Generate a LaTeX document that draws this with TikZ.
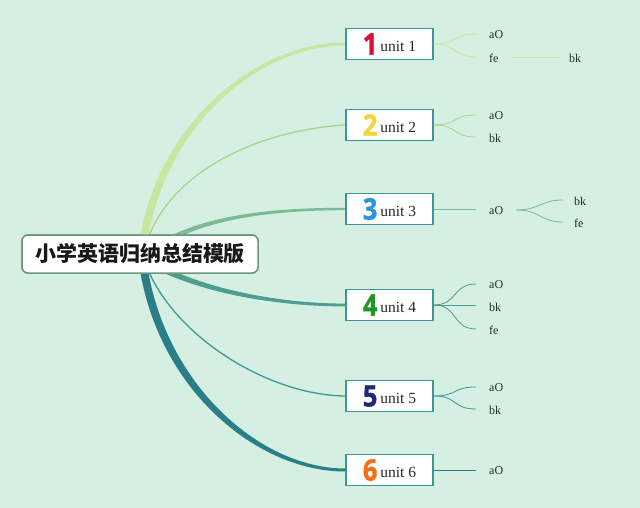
\documentclass[tikz,border=0pt]{standalone}
\usepackage{fontspec}
\setmainfont{Liberation Serif}
\newfontfamily\cjk{Noto Sans CJK SC}
\newfontfamily\digitfont{Open Sans}[BoldFeatures={FakeBold=1.3}]
\definecolor{bgc}{RGB}{213,239,226}
\definecolor{boxc}{RGB}{62,150,148}
\definecolor{rootc}{RGB}{110,150,128}
\definecolor{textc}{RGB}{40,40,40}
\definecolor{k1}{RGB}{200,230,160}
\definecolor{k2}{RGB}{170,211,140}
\definecolor{k3}{RGB}{125,186,150}
\definecolor{k4}{RGB}{78,157,142}
\definecolor{k5}{RGB}{62,152,148}
\definecolor{k6}{RGB}{42,126,136}
\definecolor{d1}{RGB}{214,20,50}
\definecolor{d2}{RGB}{246,210,60}
\definecolor{d3}{RGB}{40,150,220}
\definecolor{d4}{RGB}{30,150,40}
\definecolor{d5}{RGB}{30,40,120}
\definecolor{d6}{RGB}{245,110,20}
\newcommand\dig[2]{\raisebox{-3pt}{\scalebox{0.98}[1.14]{\color{#1}\digitfont\bfseries\fontsize{26}{26}\selectfont #2}}}
\begin{document}
\begin{tikzpicture}[x=1pt,y=-1pt,
  unitbox/.style={draw=boxc, line width=1.8pt, fill=white, minimum width=87pt, minimum height=31pt, inner sep=0pt, font=\fontsize{15.5}{15.5}\selectfont, text=textc},
  rootbox/.style={draw=rootc, line width=1.5pt, rounded corners=6pt, fill=white, minimum width=236pt, minimum height=38pt, inner sep=0pt, font=\cjk\bfseries\fontsize{21}{21}\selectfont, text=black!90},
  leaf/.style={anchor=west, inner sep=1pt, font=\fontsize{12}{12}\selectfont, text=textc},
  br/.style={line cap=round},
  tw/.style={line width=0.8pt}
]
\useasboundingbox (0,0) rectangle (640,508);
\fill[bgc] (0,0) rectangle (640,508);

% unit box positions (drawn first as anchors for branches)
\node[unitbox] (u1) at (389.5,44) {\dig{d1}{1}\hspace{3pt}unit 1};
\node[unitbox] (u2) at (389.5,125) {\dig{d2}{2}\hspace{3pt}unit 2};
\node[unitbox] (u3) at (389.5,209) {\dig{d3}{3}\hspace{3pt}unit 3};
\node[unitbox] (u4) at (389.5,305) {\dig{d4}{4}\hspace{3pt}unit 4};
\node[unitbox] (u5) at (389.5,396) {\dig{d5}{5}\hspace{3pt}unit 5};
\node[unitbox] (u6) at (389.5,470) {\dig{d6}{6}\hspace{3pt}unit 6};
% root (placed for anchors; redrawn on top later)
\node[rootbox] (root) at (140,254) {小学英语归纳总结模版};

% main branches (tapered)
\fill[k1] ([xshift=119pt,yshift=-2pt]root.north west) .. controls (161,120) and (258,42.5) .. ([yshift=1.5pt]u1.west)
  -- ([yshift=-1.5pt]u1.west) .. controls (262,45.5) and (169,120) .. ([xshift=127pt,yshift=-2pt]root.north west) -- cycle;
\draw[br, k2, line width=1.3pt] ([xshift=128pt,yshift=-1pt]root.north west) .. controls (175,170) and (260,130) .. (u2.west);
\fill[k3] ([xshift=148pt,yshift=-2pt]root.north west) .. controls (218,213) and (280,207.8) .. ([yshift=1.2pt]u3.west)
  -- ([yshift=-1.2pt]u3.west) .. controls (282,210.2) and (222,217) .. ([xshift=160pt,yshift=-2pt]root.north west) -- cycle;
\fill[k4] ([xshift=154pt,yshift=2pt]root.south west) .. controls (224,293) and (290,303.6) .. ([yshift=1.4pt]u4.west)
  -- ([yshift=-1.4pt]u4.west) .. controls (288,306.4) and (216,297) .. ([xshift=140pt,yshift=2pt]root.south west) -- cycle;
\draw[br, k5, line width=1.3pt] ([xshift=128pt,yshift=1pt]root.south west) .. controls (180,340) and (270,395) .. (u5.west);
\fill[k6] ([xshift=127pt,yshift=2pt]root.south west) .. controls (169,388) and (262,468.5) .. ([yshift=1.5pt]u6.west)
  -- ([yshift=-1.5pt]u6.west) .. controls (258,471.5) and (161,392) .. ([xshift=119pt,yshift=2pt]root.south west) -- cycle;

% root on top
\node[rootbox] at (140,254) {小学英语归纳总结模版};

% redraw unit boxes on top of branch ends
\foreach \i/\d/\y in {1/d1/44,2/d2/125,3/d3/209,4/d4/305,5/d5/396,6/d6/470}{
  \node[unitbox] at (389.5,\y) {\dig{\d}{\i}\hspace{3pt}unit \i};
}

% leaves
\node[leaf] (a1) at (488,35) {aO};
\node[leaf] (f1) at (488,58) {fe};
\node[leaf] (b1) at (568,58) {bk};
\node[leaf] (a2) at (488,116) {aO};
\node[leaf] (b2) at (488,138) {bk};
\node[leaf] (a3) at (488,211) {aO};
\node[leaf] (b3) at (573,201) {bk};
\node[leaf] (f3) at (573,223) {fe};
\node[leaf] (a4) at (488,285) {aO};
\node[leaf] (b4) at (488,307) {bk};
\node[leaf] (f4) at (488,330) {fe};
\node[leaf] (a5) at (488,388) {aO};
\node[leaf] (b5) at (488,410) {bk};
\node[leaf] (a6) at (488,471) {aO};

% leaf connectors
\draw[k1, tw] (u1.east) .. controls (458,44) and (452,34) .. ([xshift=-12pt,yshift=1pt]a1.west);
\draw[k1, tw] (u1.east) .. controls (458,44) and (452,57) .. ([xshift=-12pt,yshift=1pt]f1.west);
\draw[k1, tw] ([xshift=12pt,yshift=1pt]f1.east) -- ([xshift=-8pt,yshift=1pt]b1.west);
\draw[k2, tw] (u2.east) .. controls (458,125) and (452,115) .. ([xshift=-12pt,yshift=1pt]a2.west);
\draw[k2, tw] (u2.east) .. controls (458,125) and (452,137) .. ([xshift=-12pt,yshift=1pt]b2.west);
\draw[k3, tw] (u3.east) -- ([xshift=-12pt]a3.west |- u3.east);
\draw[k3, tw] ([xshift=12pt,yshift=1pt]a3.east) .. controls (540,210) and (540,200) .. ([xshift=-10pt,yshift=1pt]b3.west);
\draw[k3, tw] ([xshift=12pt,yshift=1pt]a3.east) .. controls (540,210) and (540,222) .. ([xshift=-10pt,yshift=1pt]f3.west);
\draw[k4, tw] (u4.east) .. controls (458,305) and (452,284) .. ([xshift=-12pt,yshift=1pt]a4.west);
\draw[k4, tw] (u4.east) -- ([xshift=-12pt]b4.west |- u4.east);
\draw[k4, tw] (u4.east) .. controls (458,305) and (452,329) .. ([xshift=-12pt,yshift=1pt]f4.west);
\draw[k5, tw] (u5.east) .. controls (458,396) and (452,387) .. ([xshift=-12pt,yshift=1pt]a5.west);
\draw[k5, tw] (u5.east) .. controls (458,396) and (452,409) .. ([xshift=-12pt,yshift=1pt]b5.west);
\draw[k6, tw] (u6.east) -- ([xshift=-12pt]a6.west |- u6.east);
\end{tikzpicture}
\end{document}
